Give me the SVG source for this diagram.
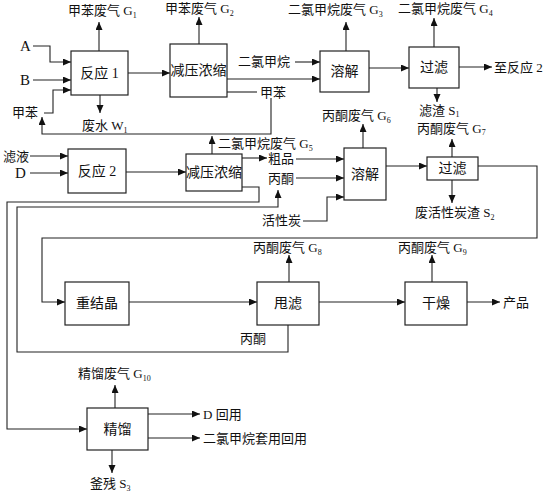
<svg xmlns="http://www.w3.org/2000/svg" width="547" height="494" viewBox="0 0 547 494">
<defs>
<marker id="ah" markerUnits="userSpaceOnUse" markerWidth="9" markerHeight="8" refX="8" refY="3.5" orient="auto">
<path d="M0,0 L8,3.5 L0,7 z" fill="#111"/>
</marker>
<style>
rect{fill:#fff;stroke:#222;stroke-width:1.2}
.c{fill:none;stroke:#222;stroke-width:1.1}
.a{marker-end:url(#ah)}
text{font-family:"Liberation Serif","Noto Sans CJK SC",serif;fill:#111;font-size:13px}
.n{font-size:14px;text-anchor:middle;dominant-baseline:central}
.s{font-size:8px}
</style>
</defs>
<rect x="0" y="0" width="547" height="494" style="fill:#fff;stroke:none"/>
<g id="connectors">
<polyline class="c a" points="33,46 50,46 50,62 71,62"/>
<polyline class="c a" points="33,80 71,80"/>
<polyline class="c a" points="44,113 53,113 53,90 71,90"/>
<polyline class="c" points="227,92 257,92"/>
<polyline class="c a" points="271,98 271,134 42,134 42,117"/>
<polyline class="c a" points="99,51 99,22"/>
<polyline class="c a" points="100,95 100,113"/>
<polyline class="c a" points="128,73 170,73"/>
<polyline class="c a" points="199,44 199,17"/>
<polyline class="c a" points="295,62 320,62"/>
<polyline class="c a" points="227,79 320,79"/>
<polyline class="c a" points="346,51 346,22"/>
<polyline class="c a" points="369,68 409,68"/>
<polyline class="c a" points="434,47 434,18"/>
<polyline class="c a" points="459,67 492,67"/>
<polyline class="c a" points="437,88 437,102"/>
<polyline class="c a" points="30,156 68,156"/>
<polyline class="c a" points="30,173 68,173"/>
<polyline class="c a" points="126,172 186,172"/>
<polyline class="c a" points="212,154 212,136"/>
<polyline class="c a" points="242,158 267,158"/>
<polyline class="c a" points="296,159 344,159"/>
<polyline class="c a" points="296,178 344,178"/>
<polyline class="c a" points="303,221 327,221 327,197 344,197"/>
<polyline class="c a" points="363,148 363,124"/>
<polyline class="c a" points="386,166 427,166"/>
<polyline class="c a" points="452,157 452,139"/>
<polyline class="c a" points="452,180 452,203"/>
<polyline class="c a" points="478,166 537,166 537,238 42,238 42,302 65,302"/>
<polyline class="c a" points="129,302 257,302"/>
<polyline class="c a" points="319,302 405,302"/>
<polyline class="c a" points="467,302 500,302"/>
<polyline class="c a" points="289,282 289,255"/>
<polyline class="c a" points="432,282 432,255"/>
<polyline class="c a" points="288,325 288,352 17,352 17,207 278,207 278,190"/>
<polyline class="c a" points="242,187 259,187 259,202 7,202 7,429 87,429"/>
<polyline class="c a" points="115,408 115,385"/>
<polyline class="c a" points="148,414 200,414"/>
<polyline class="c a" points="148,438 200,438"/>
<polyline class="c a" points="112,450 112,473"/>
</g>
<g id="r1"><rect x="71" y="51" width="57" height="44"/><text class="n" x="99.5" y="73">反应 1</text></g>
<g id="c1"><rect x="170" y="44" width="57" height="53"/><text class="n" x="198.5" y="70.5">减压浓缩</text></g>
<g id="d1"><rect x="320" y="51" width="49" height="41"/><text class="n" x="344.5" y="71.5">溶解</text></g>
<g id="f1"><rect x="409" y="47" width="50" height="41"/><text class="n" x="434" y="67.5">过滤</text></g>
<g id="r2"><rect x="68" y="149" width="58" height="44"/><text class="n" x="97" y="171">反应 2</text></g>
<g id="c2"><rect x="186" y="154" width="56" height="37"/><text class="n" x="214" y="172.5">减压浓缩</text></g>
<g id="d2"><rect x="344" y="148" width="42" height="52"/><text class="n" x="365" y="174">溶解</text></g>
<g id="f2"><rect x="427" y="157" width="51" height="23"/><text class="n" x="452.5" y="168.5">过滤</text></g>
<g id="rc"><rect x="65" y="282" width="64" height="43"/><text class="n" x="97" y="303.5">重结晶</text></g>
<g id="sf"><rect x="257" y="282" width="62" height="43"/><text class="n" x="288" y="303.5">甩滤</text></g>
<g id="dr"><rect x="405" y="282" width="62" height="43"/><text class="n" x="436" y="303.5">干燥</text></g>
<g id="js"><rect x="87" y="408" width="61" height="42"/><text class="n" x="117.5" y="429">精馏</text></g>
<g id="labels">
<text x="20" y="51" style="font-size:15px">A</text>
<text x="20" y="85" style="font-size:15px">B</text>
<text x="15" y="178" style="font-size:15px">D</text>
<text x="12" y="117">甲苯</text>
<text x="68" y="15">甲苯废气 G<tspan class="s" dy="3">1</tspan></text>
<text x="82" y="130">废水 W<tspan class="s" dy="3">1</tspan></text>
<text x="165" y="13">甲苯废气 G<tspan class="s" dy="3">2</tspan></text>
<text x="238" y="66">二氯甲烷</text>
<text x="260" y="97">甲苯</text>
<text x="288" y="14">二氯甲烷废气 G<tspan class="s" dy="3">3</tspan></text>
<text x="398" y="13">二氯甲烷废气 G<tspan class="s" dy="3">4</tspan></text>
<text x="494" y="72">至反应 2</text>
<text x="419" y="115">滤渣 S<tspan class="s" dy="2">1</tspan></text>
<text x="322" y="120">丙酮废气 G<tspan class="s" dy="3">6</tspan></text>
<text x="417" y="133">丙酮废气 G<tspan class="s" dy="2">7</tspan></text>
<text x="3" y="161">滤液</text>
<text x="218" y="148">二氯甲烷废气 G<tspan class="s" dy="3">5</tspan></text>
<text x="268" y="163">粗品</text>
<text x="268" y="183">丙酮</text>
<text x="262" y="225">活性炭</text>
<text x="415" y="217">废活性炭渣 S<tspan class="s" dy="3">2</tspan></text>
<text x="253" y="252">丙酮废气 G<tspan class="s" dy="3">8</tspan></text>
<text x="398" y="252">丙酮废气 G<tspan class="s" dy="3">9</tspan></text>
<text x="503" y="307">产品</text>
<text x="240" y="343">丙酮</text>
<text x="78" y="378">精馏废气 G<tspan class="s" dy="3">10</tspan></text>
<text x="203" y="419">D 回用</text>
<text x="203" y="443">二氯甲烷套用回用</text>
<text x="90" y="488">釜残 S<tspan class="s" dy="3">3</tspan></text>
</g>
</svg>
